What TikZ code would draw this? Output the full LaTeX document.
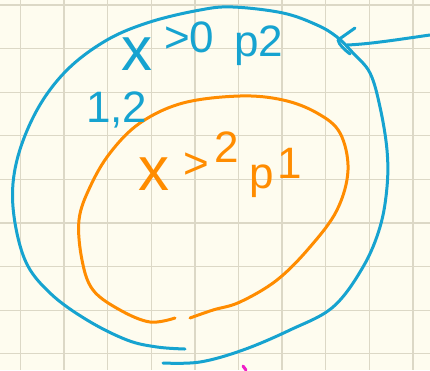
\documentclass[tikz,border=0pt]{standalone}
\usepackage{fontspec}
\setmainfont{Liberation Sans}
\definecolor{paper}{HTML}{FEFCEF}
\definecolor{gridc}{HTML}{DCD8C6}
\definecolor{penblue}{HTML}{16A3D0}
\definecolor{penorange}{HTML}{FF8C00}
\definecolor{penpink}{HTML}{F01EC8}
\tikzset{
  gridline/.style={gridc, line width=1.3pt},
  bluepen/.style={penblue, line width=3pt, line cap=round, line join=round},
  orangepen/.style={penorange, line width=3pt, line cap=round, line join=round},
  bluetext/.style={penblue, font=\fontsize{44}{44}\selectfont, inner sep=0pt},
  orangetext/.style={penorange, font=\fontsize{44}{44}\selectfont, inner sep=0pt},
}
\begin{document}
\begin{tikzpicture}[x=1pt,y=-1pt]
\useasboundingbox (0,0) rectangle (430,370);
\fill[paper] (0,0) rectangle (430,370);
% grid
\foreach \k in {0,...,9} \draw[gridline] ({20.5+43.6*\k},0) -- ({20.5+43.6*\k},370);
\foreach \k in {0,...,8} \draw[gridline] (0,{5+43.6*\k}) -- (430,{5+43.6*\k});
% outer blue loop
\draw[bluepen] plot[smooth, tension=0.6] coordinates {
 (185,349) (157,347) (127,340) (87,320) (50,293) (25,260) (13,207) (17,160)
 (37,110) (67,70) (107,40) (150,22) (200,10) (233,7) (283,13) (317,25)
 (337,37) (353,53) (370,73) (380,107) (387,150) (387,187) (380,227)
 (363,267) (333,307) (290,330) (243,350) (200,362) (163,363)};
% inner orange loop
\draw[orangepen] plot[smooth, tension=0.6] coordinates {
 (175,318) (150,322) (120,310) (93,290) (82,260) (79,220) (90,187) (110,153)
 (140,123) (183,103) (240,96) (283,100) (317,113) (340,133) (348,170)
 (337,210) (310,247) (277,280) (240,302) (213,310) (190,318)};
% arrow pointing at the blue loop
\coordinate (arrowstart) at (430,35);
\coordinate (arrowend) at (347,45);
\draw[bluepen] (arrowstart) .. controls (395,40) and (370,44) .. (arrowend);
\draw[bluepen] (355,28) -- (338,40) .. controls (339,45) and (345,50) .. (350,54);
% labels
\node[bluetext, anchor=base west] (lblA) at (121,70)
  {{\fontsize{62}{62}\selectfont x}\hspace{12pt}\raisebox{18pt}{>0}\hspace{20pt}\raisebox{14pt}{p2}};
\node[bluetext, anchor=base west] (lblB) at (86,122) {1,2};
\node[orangetext, anchor=base west] (lblC) at (138,190)
  {{\fontsize{62}{62}\selectfont x}\hspace{14pt}\raisebox{12pt}{>}\hspace{6pt}\raisebox{28pt}{2}\hspace{10pt}\raisebox{2pt}{p}\hspace{4pt}\raisebox{12pt}{1}};
% small pink mark
\draw[penpink, line width=3pt, line cap=round] (243,366) -- (246,370);
\end{tikzpicture}
\end{document}
